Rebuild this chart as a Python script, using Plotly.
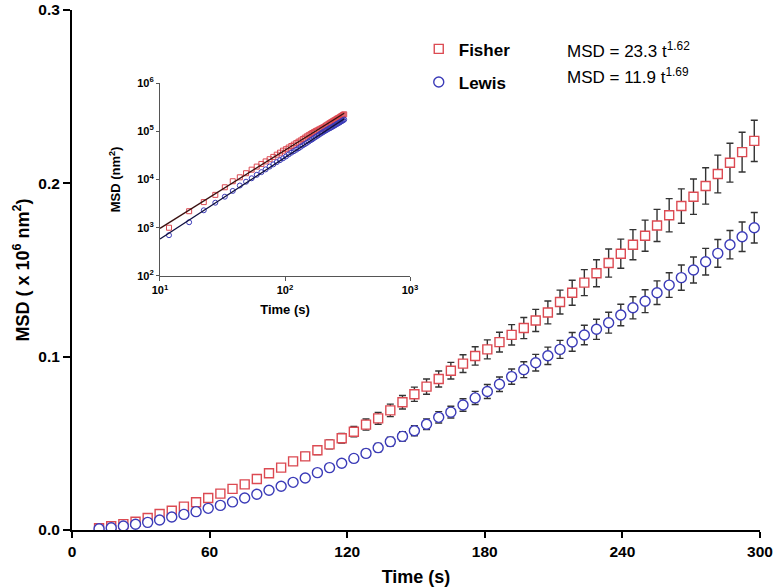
import plotly.graph_objects as go

# ---- data ----
time_s = [11.8, 17.1, 22.4, 27.7, 33.0, 38.2, 43.5, 48.8, 54.1, 59.4,
          64.7, 70.0, 75.3, 80.6, 85.9, 91.2, 96.4, 101.7, 107.0, 112.3,
          117.6, 122.9, 128.2, 133.5, 138.8, 144.1, 149.3, 154.6, 159.9, 165.2,
          170.5, 175.8, 181.1, 186.4, 191.7, 197.0, 202.2, 207.5, 212.8, 218.1,
          223.4, 228.7, 234.0, 239.3, 244.6, 249.9, 255.1, 260.4, 265.7, 271.0,
          276.3, 281.6, 286.9, 292.2, 297.5]

fisher_msd = [0.0010, 0.0022, 0.0034, 0.0048, 0.0069, 0.0092, 0.0111, 0.0135, 0.0160, 0.0185,
              0.0210, 0.0237, 0.0263, 0.0294, 0.0327, 0.0360, 0.0396, 0.0425, 0.0460, 0.0494,
              0.0529, 0.0567, 0.0608, 0.0644, 0.0690, 0.0737, 0.0783, 0.0827, 0.0871, 0.0919,
              0.0960, 0.1004, 0.1042, 0.1084, 0.1126, 0.1165, 0.1209, 0.1255, 0.1315, 0.1369,
              0.1427, 0.1481, 0.1540, 0.1594, 0.1646, 0.1698, 0.1757, 0.1816, 0.1869, 0.1923,
              0.1985, 0.2054, 0.2119, 0.2180, 0.2245]

fisher_err = [0.0001, 0.0001, 0.0002, 0.0003, 0.0004, 0.0005, 0.0006, 0.0007, 0.0008, 0.0010,
              0.0011, 0.0012, 0.0014, 0.0015, 0.0017, 0.0019, 0.0021, 0.0022, 0.0024, 0.0026,
              0.0028, 0.0030, 0.0032, 0.0034, 0.0036, 0.0039, 0.0041, 0.0044, 0.0046, 0.0048,
              0.0051, 0.0053, 0.0055, 0.0057, 0.0059, 0.0061, 0.0064, 0.0066, 0.0069, 0.0072,
              0.0075, 0.0078, 0.0081, 0.0084, 0.0087, 0.0090, 0.0093, 0.0096, 0.0099, 0.0102,
              0.0105, 0.0109, 0.0112, 0.0115, 0.0119]

lewis_msd = [0.0007, 0.0013, 0.0023, 0.0033, 0.0044, 0.0058, 0.0075, 0.0090, 0.0106, 0.0125,
             0.0142, 0.0162, 0.0185, 0.0206, 0.0229, 0.0252, 0.0275, 0.0300, 0.0331, 0.0360,
             0.0385, 0.0413, 0.0442, 0.0475, 0.0510, 0.0540, 0.0573, 0.0610, 0.0650, 0.0680,
             0.0721, 0.0762, 0.0799, 0.0841, 0.0885, 0.0925, 0.0965, 0.1005, 0.1042, 0.1085,
             0.1125, 0.1158, 0.1196, 0.1240, 0.1282, 0.1320, 0.1369, 0.1413, 0.1456, 0.1500,
             0.1548, 0.1596, 0.1646, 0.1692, 0.1744]

lewis_err = [0.0001, 0.0001, 0.0001, 0.0002, 0.0002, 0.0003, 0.0004, 0.0005, 0.0005, 0.0006,
             0.0007, 0.0008, 0.0009, 0.0010, 0.0011, 0.0013, 0.0014, 0.0015, 0.0017, 0.0018,
             0.0019, 0.0021, 0.0022, 0.0024, 0.0026, 0.0027, 0.0029, 0.0031, 0.0033, 0.0034,
             0.0036, 0.0038, 0.0040, 0.0042, 0.0044, 0.0046, 0.0048, 0.0050, 0.0052, 0.0054,
             0.0056, 0.0058, 0.0060, 0.0062, 0.0064, 0.0066, 0.0068, 0.0071, 0.0073, 0.0075,
             0.0077, 0.0080, 0.0082, 0.0085, 0.0088]

# power-law fits stated on the chart: MSD = A * t^alpha (nm^2)
fisher_fit = (23.3, 1.62)
lewis_fit = (11.9, 1.69)
fit_t = [10.0, time_s[-1]]

x_ticks = [0, 60, 120, 180, 240, 300]
y_ticks = [0.0, 0.1, 0.2, 0.3]

RED = "#dc4a52"
BLUE = "#3b3bb8"
ERR = "#333333"
FONT = "Arial, Liberation Sans, sans-serif"

fig = go.Figure()

# ---- main panel ----
fig.add_trace(go.Scatter(
    x=time_s, y=fisher_msd, mode="markers", name="Fisher",
    marker=dict(symbol="square", size=9, color="white", line=dict(color=RED, width=1.4)),
    error_y=dict(type="data", array=fisher_err, color=ERR, thickness=1.4, width=3.5),
    legendgroup="f", xaxis="x", yaxis="y"))
fig.add_trace(go.Scatter(
    x=time_s, y=lewis_msd, mode="markers", name="Lewis",
    marker=dict(symbol="circle", size=10, color="white", line=dict(color=BLUE, width=1.4)),
    error_y=dict(type="data", array=lewis_err, color=ERR, thickness=1.4, width=3.5),
    legendgroup="l", xaxis="x", yaxis="y"))

# ---- inset (log-log, nm^2) ----
fisher_nm2 = [v * 1e6 for v in fisher_msd]
lewis_nm2 = [v * 1e6 for v in lewis_msd]

fig.add_trace(go.Scatter(
    x=time_s, y=fisher_nm2, mode="markers", showlegend=False,
    marker=dict(symbol="square-open", size=5, color=RED, line=dict(width=1)),
    xaxis="x2", yaxis="y2"))
fig.add_trace(go.Scatter(
    x=time_s, y=lewis_nm2, mode="markers", showlegend=False,
    marker=dict(symbol="circle-open", size=5, color=BLUE, line=dict(width=1)),
    xaxis="x2", yaxis="y2"))
fig.add_trace(go.Scatter(
    x=fit_t, y=[fisher_fit[0] * t ** fisher_fit[1] for t in fit_t], mode="lines",
    showlegend=False, line=dict(color="#3a1010", width=1.3), xaxis="x2", yaxis="y2"))
fig.add_trace(go.Scatter(
    x=fit_t, y=[lewis_fit[0] * t ** lewis_fit[1] for t in fit_t], mode="lines",
    showlegend=False, line=dict(color="#101040", width=1.3), xaxis="x2", yaxis="y2"))

fig.update_layout(
    width=780, height=588,
    margin=dict(l=72, r=20, t=10, b=58, autoexpand=False),
    paper_bgcolor="white", plot_bgcolor="white",
    font=dict(family=FONT, color="black"),
    xaxis=dict(
        domain=[0, 1], range=[0, 300], tickvals=x_ticks, automargin=False,
        showgrid=False, zeroline=False, showline=True, linecolor="black", linewidth=2,
        ticks="outside", ticklen=6, tickwidth=2, tickcolor="black",
        tickfont=dict(size=15.5, weight="bold"),
        title=dict(text="Time (s)", font=dict(size=18, weight="bold"), standoff=12),
    ),
    yaxis=dict(
        domain=[0, 1], range=[0, 0.3], tickvals=y_ticks, tickformat=".1f", automargin=True,
        showgrid=False, zeroline=False, showline=True, linecolor="black", linewidth=2,
        ticks="outside", ticklen=7, tickwidth=2, tickcolor="black",
        tickfont=dict(size=15.5, weight="bold"),
        title=dict(text="MSD ( x 10<sup>6</sup> nm<sup>2</sup>)", font=dict(size=18, weight="bold"), standoff=4),
    ),
    xaxis2=dict(
        domain=[0.1279, 0.4913], type="log", range=[1, 3], anchor="y2", automargin=False,
        tickvals=[10, 100, 1000], ticktext=["10<sup>1</sup>", "10<sup>2</sup>", "10<sup>3</sup>"],
        showgrid=False, zeroline=False, showline=True, linecolor="#555555", linewidth=1.2,
        ticks="outside", ticklen=4, tickcolor="#555555",
        tickfont=dict(size=11, weight="bold"),
        title=dict(text="Time (s)", font=dict(size=13, weight="bold"), standoff=9),
    ),
    yaxis2=dict(
        domain=[0.4885, 0.8596], type="log", range=[2, 6], anchor="x2", automargin=False,
        tickvals=[100, 1000, 10000, 100000, 1000000],
        ticktext=["10<sup>2</sup>", "10<sup>3</sup>", "10<sup>4</sup>", "10<sup>5</sup>", "10<sup>6</sup>"],
        showgrid=False, zeroline=False, showline=True, linecolor="#555555", linewidth=1.2,
        ticks="outside", ticklen=3, tickcolor="#555555",
        tickfont=dict(size=11, weight="bold"),
        title=dict(text="MSD (nm<sup>2</sup>)", font=dict(size=13, weight="bold"), standoff=13),
    ),
    showlegend=True,
    legend=dict(
        x=0.504, y=0.959, xanchor="left", yanchor="top",
        font=dict(size=17, weight="bold", family=FONT),
        bgcolor="rgba(0,0,0,0)", tracegroupgap=8,
    ),
    annotations=[
        dict(text="MSD = 23.3 t<sup>1.62</sup>", x=0.7165, y=0.924, xref="paper", yref="paper",
             xanchor="left", yanchor="middle", showarrow=False, font=dict(size=17, family=FONT)),
        dict(text="MSD = 11.9 t<sup>1.69</sup>", x=0.7165, y=0.873, xref="paper", yref="paper",
             xanchor="left", yanchor="middle", showarrow=False, font=dict(size=17, family=FONT)),
    ],
)

fig.write_html("out.html", config={"displayModeBar": False},
               post_script="document.body.style.margin='0';document.body.style.padding='0';")
